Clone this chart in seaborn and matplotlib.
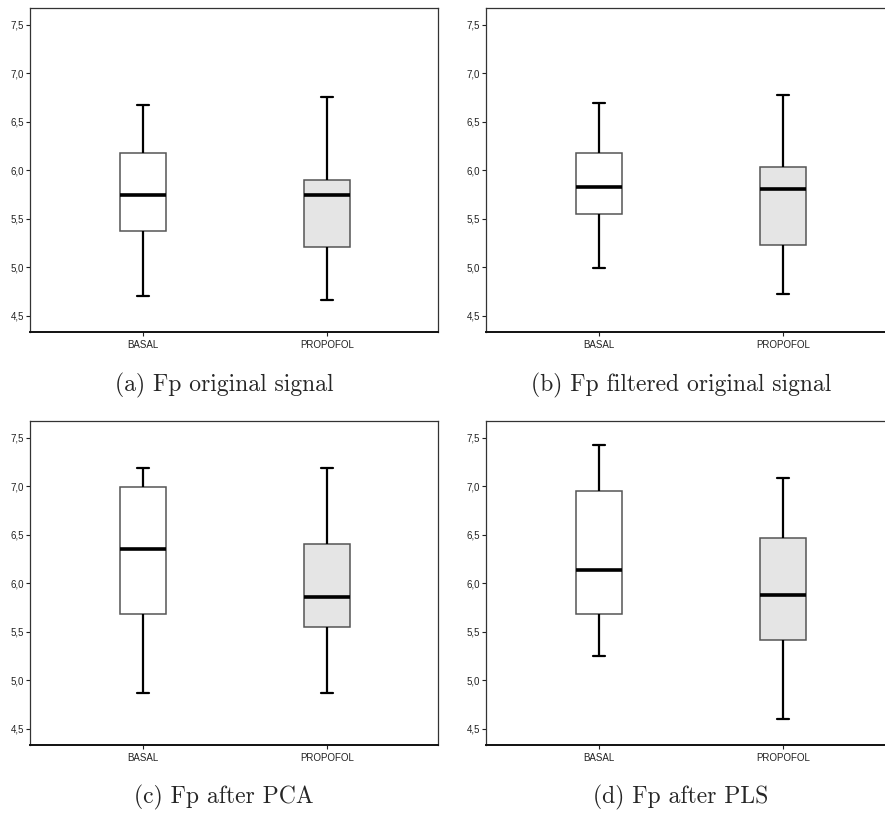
import numpy as np
import pandas as pd
import matplotlib
matplotlib.use("Agg")
import matplotlib.pyplot as plt
import seaborn as sns

# ---- data (five-number summaries: min, Q1, median, Q3, max)
groups = ["BASAL", "PROPOFOL"]

basal_a = [4.71, 5.38, 5.75, 6.18, 6.68]
propofol_a = [4.67, 5.21, 5.75, 5.90, 6.76]

basal_b = [4.99, 5.55, 5.83, 6.18, 6.70]
propofol_b = [4.73, 5.23, 5.81, 6.04, 6.78]

basal_c = [4.87, 5.69, 6.36, 6.99, 7.19]
propofol_c = [4.87, 5.55, 5.86, 6.41, 7.19]

basal_d = [5.25, 5.69, 6.14, 6.95, 7.43]
propofol_d = [4.60, 5.42, 5.88, 6.47, 7.09]

captions = ["(a) Fp original signal", "(b) Fp filtered original signal",
            "(c) Fp after PCA", "(d) Fp after PLS"]

ytick_vals = [4.5, 5.0, 5.5, 6.0, 6.5, 7.0, 7.5]
ytick_labels = ["4,5", "5,0", "5,5", "6,0", "6,5", "7,0", "7,5"]

panels = [(basal_a, propofol_a), (basal_b, propofol_b),
          (basal_c, propofol_c), (basal_d, propofol_d)]

box_colors = {"BASAL": "#ffffff", "PROPOFOL": "#e5e5e5"}

# ---- figure
W, H = 885, 813
fig = plt.figure(figsize=(W / 100, H / 100), dpi=100)
sns.set_style("white")
plt.rcParams["font.family"] = ["Liberation Sans", "DejaVu Sans"]

ax_w = 408
ax_h = 324
lefts = [30, 486, 30, 486]
tops = [8, 8, 421, 421]
cap_centers = [(224, 385), (681, 385), (224, 797), (681, 797)]

for i, (basal, prop) in enumerate(panels):
    ax = fig.add_axes([lefts[i] / W, 1 - (tops[i] + ax_h) / H, ax_w / W, ax_h / H])
    df = pd.DataFrame({
        "group": ["BASAL"] * len(basal) + ["PROPOFOL"] * len(prop),
        "value": list(basal) + list(prop),
    })
    sns.boxplot(data=df, x="group", y="value", hue="group", order=groups,
                hue_order=groups, palette=box_colors, legend=False,
                whis=(0, 100), width=0.255, linewidth=1.0, linecolor="#555555",
                showfliers=False,
                whiskerprops=dict(color="black", linewidth=1.6),
                capprops=dict(color="black", linewidth=1.6),
                medianprops=dict(color="black", linewidth=2.6),
                boxprops=dict(edgecolor="#555555", linewidth=1.1),
                ax=ax)
    # narrower caps
    for cont in ax.containers:
        caps = getattr(cont, "caps", None)
        if caps is None:
            continue
        for cap in caps:
            xd = np.asarray(cap.get_xdata(), dtype=float)
            c = xd.mean()
            cap.set_xdata([c - 0.033, c + 0.033])
    ax.set_xlim(-0.614, 1.603)
    ax.set_ylim(4.335, 7.675)
    ax.set_yticks(ytick_vals)
    ax.set_yticklabels(ytick_labels)
    ax.set_xlabel("")
    ax.set_ylabel("")
    ax.tick_params(axis="both", which="both", length=3, width=0.8,
                   labelsize=7, colors="#222222", pad=1.5)
    ax.tick_params(axis="y", direction="out", left=True)
    ax.tick_params(axis="x", direction="out", bottom=True, pad=3)
    for lab in ax.get_xticklabels() + ax.get_yticklabels():
        lab.set_color("#222222")
    for side in ["top", "right", "left"]:
        ax.spines[side].set_visible(True)
        ax.spines[side].set_color("#333333")
        ax.spines[side].set_linewidth(0.9)
    ax.spines["bottom"].set_visible(True)
    ax.spines["bottom"].set_color("#111111")
    ax.spines["bottom"].set_linewidth(1.4)
    ax.grid(False)
    cx, cy = cap_centers[i]
    fig.text(cx / W, 1 - cy / H, captions[i], ha="center", va="center",
             fontsize=17, family=["cmr10", "DejaVu Serif"])

fig.savefig("out.png", dpi=100)
